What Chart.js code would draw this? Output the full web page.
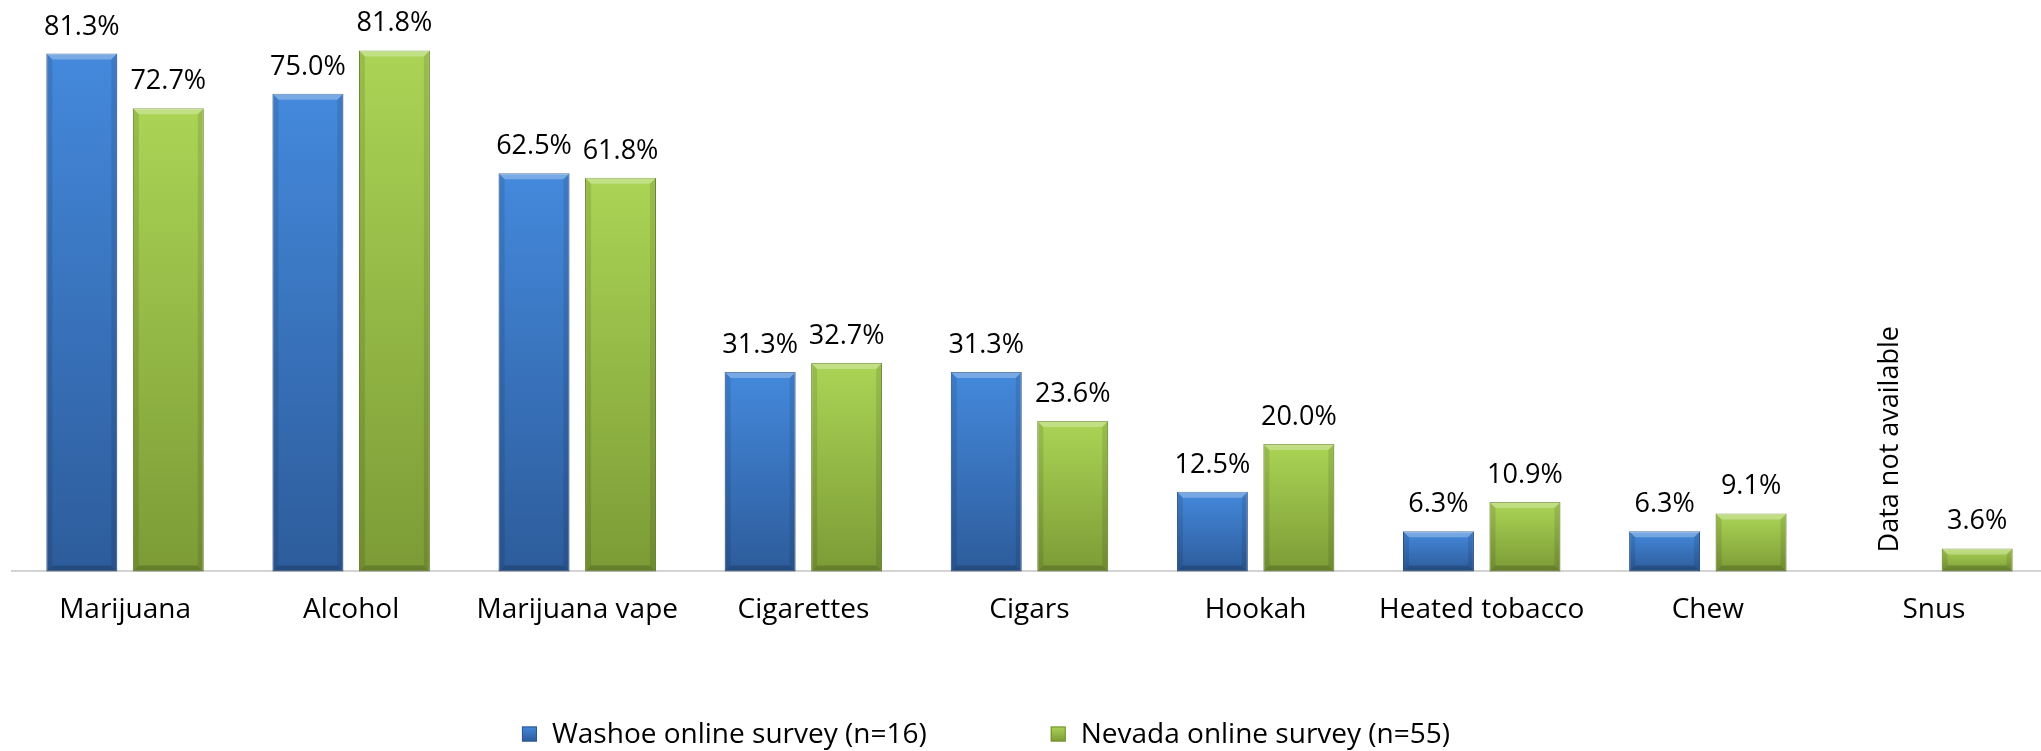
<!DOCTYPE html>
<html><head><meta charset="utf-8">
<script src="https://cdn.jsdelivr.net/npm/chart.js@4.4.0/dist/chart.umd.min.js"></script>
<style>
html,body{margin:0;padding:0;background:#fff;overflow:hidden;width:2041px;height:751px}
#wrap{position:relative;width:2048px;height:751px}
</style></head>
<body><div id="wrap"><canvas id="c" width="2048" height="751"></canvas></div>
<script>
const categories = ['Marijuana','Alcohol','Marijuana vape','Cigarettes','Cigars','Hookah','Heated tobacco','Chew','Snus'];
const washoeValues = [81.3, 75.0, 62.5, 31.3, 31.3, 12.5, 6.3, 6.3, null];
const nevadaValues = [72.7, 81.8, 61.8, 32.7, 23.6, 20.0, 10.9, 9.1, 3.6];
const seriesNames = ['Washoe online survey (n=16)', 'Nevada online survey (n=55)'];
const missingLabel = 'Data not available';

const FONT = '"Open Sans", "Noto Sans", sans-serif';
const VALUE_SIZE = 27;
const TICK_SIZE = 28;
const LEGEND_SIZE = 28;
const BLUE = {top:'#4489dc', bottom:'#2d5c9b', border:'#2a5590'};
const GREEN = {top:'#abd455', bottom:'#7c9b36', border:'#728f32'};

function barFill(c) {
  return (ctx) => {
    const chart = ctx.chart;
    const v = ctx.raw;
    if (ctx.type !== 'data' || v == null || !chart.chartArea || !chart.scales.y) return c.top;
    const y = chart.scales.y;
    const y0 = y.getPixelForValue(v), y1 = y.getPixelForValue(0);
    if (!isFinite(y0) || Math.abs(y1 - y0) < 1) return c.top;
    const g = chart.ctx.createLinearGradient(0, y0, 0, y1);
    g.addColorStop(0, c.top); g.addColorStop(1, c.bottom);
    return g;
  };
}

const bevelPlugin = {
  id: 'bevel',
  afterDatasetsDraw(chart) {
    const ctx = chart.ctx;
    chart.data.datasets.forEach((ds, di) => {
      const meta = chart.getDatasetMeta(di);
      meta.data.forEach((el, i) => {
        if (ds.data[i] == null) return;
        const w = el.width, x0 = el.x - w/2, x1 = el.x + w/2, top = el.y, bot = el.base;
        const h = bot - top;
        const b = Math.min(6, h/2);
        ctx.save();
        ctx.fillStyle = 'rgba(255,255,255,0.28)';
        ctx.beginPath();
        ctx.moveTo(x0, top); ctx.lineTo(x1, top); ctx.lineTo(x1 - b, top + b); ctx.lineTo(x0 + b, top + b);
        ctx.closePath(); ctx.fill();
        ctx.fillStyle = 'rgba(0,0,0,0.10)';
        ctx.beginPath();
        ctx.moveTo(x0, top); ctx.lineTo(x0 + b, top + b); ctx.lineTo(x0 + b, bot - b); ctx.lineTo(x0, bot);
        ctx.closePath(); ctx.fill();
        ctx.beginPath();
        ctx.moveTo(x1, top); ctx.lineTo(x1 - b, top + b); ctx.lineTo(x1 - b, bot - b); ctx.lineTo(x1, bot);
        ctx.closePath(); ctx.fill();
        ctx.fillStyle = 'rgba(0,0,0,0.18)';
        ctx.beginPath();
        ctx.moveTo(x0, bot); ctx.lineTo(x0 + b, bot - b); ctx.lineTo(x1 - b, bot - b); ctx.lineTo(x1, bot);
        ctx.closePath(); ctx.fill();
        ctx.restore();
      });
    });
  }
};

const labelPlugin = {
  id: 'valueLabels',
  afterDatasetsDraw(chart) {
    const ctx = chart.ctx;
    const yScale = chart.scales.y;
    ctx.save();
    ctx.font = VALUE_SIZE + 'px ' + FONT;
    ctx.fillStyle = '#000';
    chart.data.datasets.forEach((ds, di) => {
      const meta = chart.getDatasetMeta(di);
      meta.data.forEach((el, i) => {
        const v = ds.data[i];
        if (v == null) {
          const other = chart.getDatasetMeta(1 - di).data[i];
          const x = isFinite(el.x) ? el.x : (di === 0 ? other.x - 86 : other.x + 86);
          const y = yScale.getPixelForValue(0) - 19;
          ctx.save();
          ctx.translate(x, y);
          ctx.rotate(-Math.PI/2);
          ctx.textAlign = 'left';
          ctx.textBaseline = 'middle';
          ctx.fillText(missingLabel, 0, 0);
          ctx.restore();
        } else {
          ctx.textAlign = 'center';
          ctx.textBaseline = 'alphabetic';
          ctx.fillText(v.toFixed(1) + '%', el.x, yScale.getPixelForValue(v) - 19);
        }
      });
    });
    ctx.restore();
  }
};

const legendPlugin = {
  id: 'customLegend',
  afterDraw(chart) {
    const ctx = chart.ctx;
    ctx.save();
    ctx.font = LEGEND_SIZE + 'px ' + FONT;
    ctx.textBaseline = 'middle';
    ctx.textAlign = 'left';
    const box = 15, gapText = 15, gapItem = 124;
    const cols = [BLUE, GREEN];
    const widths = seriesNames.map(t => box + gapText + ctx.measureText(t).width);
    const total = widths[0] + gapItem + widths[1];
    let x = 986 - total/2;
    const yc = 734;
    seriesNames.forEach((t, i) => {
      const g = ctx.createLinearGradient(0, yc - box/2, 0, yc + box/2);
      g.addColorStop(0, cols[i].top); g.addColorStop(1, cols[i].bottom);
      ctx.fillStyle = g;
      ctx.fillRect(x, yc - box/2, box, box);
      ctx.strokeStyle = cols[i].border; ctx.lineWidth = 1;
      ctx.strokeRect(x + 0.5, yc - box/2 + 0.5, box - 1, box - 1);
      ctx.fillStyle = '#000';
      ctx.fillText(t, x + box + gapText, yc + 1);
      x += widths[i] + gapItem;
    });
    ctx.restore();
  }
};

new Chart(document.getElementById('c'), {
  type: 'bar',
  data: {
    labels: categories,
    datasets: [
      {label: seriesNames[0], data: washoeValues, backgroundColor: barFill(BLUE), borderColor: BLUE.border, borderWidth: 1, borderSkipped: false},
      {label: seriesNames[1], data: nevadaValues, backgroundColor: barFill(GREEN), borderColor: GREEN.border, borderWidth: 1, borderSkipped: false}
    ]
  },
  options: {
    responsive: false,
    animation: false,
    categoryPercentage: 0.765,
    barPercentage: 0.82,
    layout: {padding: {top: 30, left: 12, right: 1, bottom: 102}},
    plugins: {legend: {display: false}, tooltip: {enabled: false}},
    scales: {
      x: {
        grid: {display: false, drawTicks: false},
        border: {display: true, color: '#d4d4d4', width: 2},
        ticks: {color: '#000', padding: 22, font: {family: FONT, size: TICK_SIZE}, maxRotation: 0, autoSkip: false}
      },
      y: {display: false, min: 0, max: 85}
    }
  },
  plugins: [bevelPlugin, labelPlugin, legendPlugin]
});
</script>
</body></html>
